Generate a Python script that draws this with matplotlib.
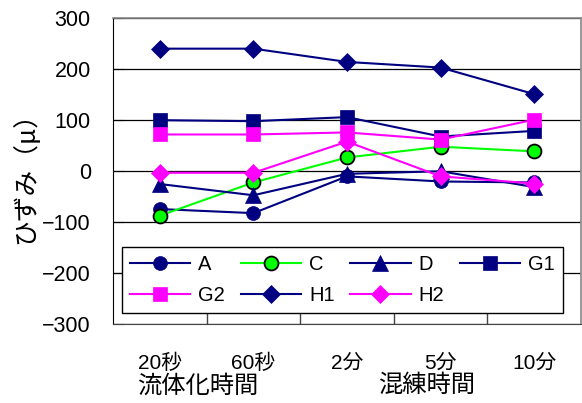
import matplotlib
matplotlib.use('Agg')
import matplotlib.pyplot as plt
import numpy as np

plt.rcParams['font.family'] = ['Liberation Sans', 'Noto Sans CJK JP', 'DejaVu Sans']

categories = ['20秒', '60秒', '2分', '5分', '10分']
groups = ['流体化時間', '混練時間']

A  = [-74, -82, -10, -20, -22]
C  = [-87, -22, 27, 48, 39]
D  = [-25, -47, -5, 0, -31]
G1 = [100, 98, 106, 68, 79]
G2 = [72, 72, 76, 62, 101]
H1 = [240, 240, 214, 203, 151]
H2 = [-3, -3, 58, -10, -24]

navy = '#000080'
mag = '#ff00ff'
lime = '#00ff00'

series = [
    ('A', A, navy, 'o', navy, 10),
    ('C', C, lime, 'o', 'black', 10),
    ('D', D, navy, '^', navy, 11),
    ('G1', G1, navy, 's', navy, 10),
    ('G2', G2, mag, 's', mag, 10),
    ('H1', H1, navy, 'D', navy, 9),
    ('H2', H2, mag, 'D', mag, 9),
]

fig = plt.figure(figsize=(5.82, 4.03), dpi=100)
ax = fig.add_axes([0.1942, 0.1948, 0.8041, 0.7605])

x = np.arange(len(categories))
lines = []
for name, vals, col, mk, edge, ms in series:
    ln, = ax.plot(x, vals, color=col, lw=1.5, marker=mk, markersize=ms,
                  markerfacecolor=col, markeredgecolor=edge,
                  markeredgewidth=1.3 if name == 'C' else 0.5, label=name)
    lines.append(ln)

ax.set_xlim(-0.5, 4.5)
ax.set_ylim(-300, 300)
ax.set_yticks(np.arange(-300, 301, 100))
ax.yaxis.grid(True, color='black', lw=0.9)
ax.set_axisbelow(True)

ax.set_xticks(x)
ax.set_xticklabels(categories, fontsize=15)
ax.tick_params(axis='x', length=0, pad=21)
ax.set_xticks(np.arange(0.5, 4.5, 1), minor=True)
ax.tick_params(axis='x', which='minor', direction='in', length=8, width=1, color='#444444')
ax.tick_params(axis='y', direction='in', length=8, labelsize=15.5, pad=16)

for s in ['top', 'right']:
    ax.spines[s].set_color('#888888')
    ax.spines[s].set_linewidth(1.2)
ax.spines['left'].set_color('black')
ax.spines['bottom'].set_color('#444444')

ax.set_ylabel('ひずみ（μ）', fontsize=18.5, labelpad=2, family=['Noto Sans CJK JP'])

fig.text(137 / 582, 1 - 386 / 403, groups[0], fontsize=17.5, va='center', ha='left')
fig.text(378 / 582, 1 - 386 / 403, groups[1], fontsize=17.5, va='center', ha='left')

# legend fills column by column, so interleave to read row-wise
order = [0, 4, 1, 5, 2, 6, 3]
leg = ax.legend([lines[i] for i in order], [series[i][0] for i in order],
                ncol=4, loc='lower left', bbox_to_anchor=(0.019, 0.0375, 0.9425, 0.235),
                mode='expand', fontsize=14.5, handlelength=3, frameon=True,
                fancybox=False, edgecolor='black', borderaxespad=0,
                columnspacing=1.0, handletextpad=0.4, labelspacing=0.6)
leg.get_frame().set_linewidth(1.0)
leg.get_frame().set_alpha(1)

plt.savefig('out.png', dpi=100)
